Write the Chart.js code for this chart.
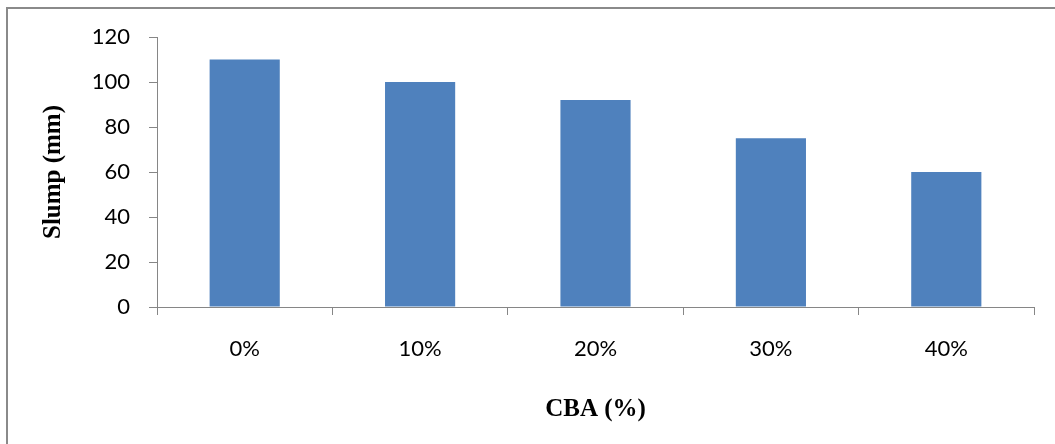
<!DOCTYPE html>
<html>
<head>
<meta charset="utf-8">
<script src="https://cdn.jsdelivr.net/npm/chart.js@4/dist/chart.umd.min.js"></script>
<style>
  body { margin: 0; background: #fff; }
  #frame { position: absolute; left: 6px; top: 7px; width: 1100px; height: 500px; border: 2px solid #8a8a8a; }
  #chart { position: absolute; left: 0; top: 0; }
</style>
</head>
<body>
<div id="frame"></div>
<canvas id="chart" width="1055" height="444"></canvas>
<script>
// CBA replacement level vs slump
const categories = ['0%', '10%', '20%', '30%', '40%'];
const slump = [110, 100, 92, 75, 60];

const axisColor = '#868686';
const tickFont = { family: 'Lato', size: 22 };
const titleFont = { family: 'Liberation Serif', size: 25, weight: 'bold' };

var ctx = document.getElementById('chart');
var myChart = new Chart(ctx, {
  type: 'bar',
  data: {
    labels: categories,
    datasets: [{
      label: 'Slump (mm)',
      data: slump,
      backgroundColor: '#4F81BD',
      barPercentage: 0.4,
      categoryPercentage: 1.0
    }]
  },
  options: {
    responsive: false,
    animation: false,
    layout: { padding: { top: 37, right: 21, left: 0, bottom: 0 } },
    plugins: {
      legend: { display: false },
      tooltip: { enabled: false }
    },
    scales: {
      x: {
        afterFit: function(scale) { scale.height = 137; },
        grid: { offset: true, drawOnChartArea: false, drawTicks: true, tickLength: 8, color: axisColor },
        border: { color: axisColor, width: 1 },
        ticks: { color: '#000', font: tickFont, padding: 21 },
        title: { display: true, text: 'CBA (%)', color: '#000', font: titleFont, padding: { top: 0, bottom: 19 } }
      },
      y: {
        min: 0,
        max: 120,
        afterFit: function(scale) { scale.width = 157; },
        grid: { drawOnChartArea: false, drawTicks: true, tickLength: 8, color: axisColor },
        border: { color: axisColor, width: 1 },
        ticks: { stepSize: 20, color: '#000', font: tickFont, padding: 19 },
        title: { display: true, text: 'Slump (mm)', color: '#000', font: titleFont, padding: { top: 39, bottom: 0 } }
      }
    }
  }
});
</script>
</body>
</html>
